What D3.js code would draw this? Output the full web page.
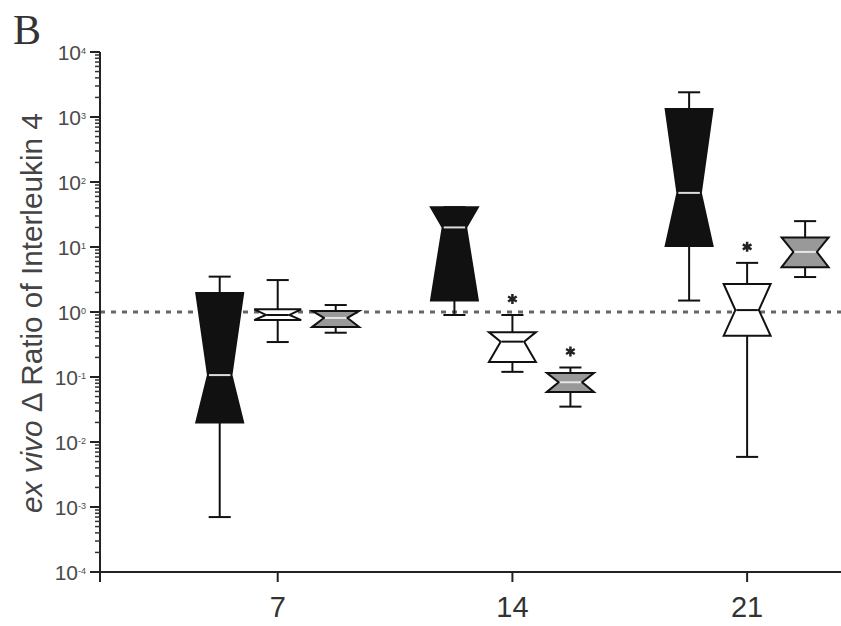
<!DOCTYPE html>
<html><head><meta charset="utf-8">
<script src="https://cdn.jsdelivr.net/npm/d3@7"></script>
<style>body{margin:0;background:#fff;} svg{display:block;}</style>
</head><body>
<script>
// ---- data ----
const days = [7, 14, 21];
const series = ["black", "white", "gray"];
const yExponents = [-4, -3, -2, -1, 0, 1, 2, 3, 4];
// per series, one entry per day: [whiskerLow, q1, median, q3, whiskerHigh]
const blackBoxes = [[0.0007, 0.02, 0.107, 1.96, 3.5], [0.9, 1.5, 20, 41, 41], [1.5, 10.4, 68, 1330, 2400]];
const whiteBoxes = [[0.345, 0.75, 0.9, 1.1, 3.1], [0.12, 0.17, 0.35, 0.49, 0.9], [0.0059, 0.43, 1.07, 2.7, 5.7]];
const grayBoxes  = [[0.48, 0.59, 0.81, 1.04, 1.28], [0.035, 0.059, 0.083, 0.115, 0.14], [3.45, 4.9, 8.4, 14, 25]];
const blackStars = [false, false, false];
const whiteStars = [false, true, true];
const grayStars  = [false, true, false];
const referenceLine = 1;
const yTitle = ["ex vivo", " \u0394 Ratio of Interleukin 4"];
const panelLabel = "B";

// ---- layout ----
const W = 841, H = 626;
const svg = d3.select("body").append("svg").attr("width", W).attr("height", H);
const x = d3.scaleLinear().domain([1.7, 23.8]).range([100, 841]);
const inner = d3.scaleBand().domain(series).range([-87, 87]).paddingInner(0.19).paddingOuter(0.095);
const y = d3.scaleLog().domain([1e-4, 1e4]).range([572, 52]);
const fills = {black: "#111", white: "#fff", gray: "#999"};
const medianColor = {black: "#ddd", white: "#111", gray: "#e6e6e6"};
const boxData = {black: blackBoxes, white: whiteBoxes, gray: grayBoxes};
const starData = {black: blackStars, white: whiteStars, gray: grayStars};

// reference dotted line
svg.append("line").attr("x1", x.range()[0]).attr("x2", x.range()[1])
  .attr("y1", y(referenceLine)).attr("y2", y(referenceLine))
  .attr("stroke", "#666").attr("stroke-width", 3).attr("stroke-dasharray", "5,6");

// boxes
const boxes = [];
series.forEach(s => days.forEach((d, i) => {
  const v = boxData[s][i];
  boxes.push({s, d, wlo: v[0], q1: v[1], med: v[2], q3: v[3], whi: v[4], star: starData[s][i]});
}));
const bw = inner.bandwidth();
const capW = bw * 0.47;
const notchRatio = 0.5;
const g = svg.append("g");
boxes.forEach(b => {
  const cx = x(b.d) + inner(b.s) + bw / 2;
  const L = cx - bw / 2, R = cx + bw / 2;
  const nl = cx - bw * notchRatio / 2, nr = cx + bw * notchRatio / 2;
  const gg = g.append("g");
  if (b.whi > b.q3) {
    gg.append("line").attr("x1", cx).attr("x2", cx).attr("y1", y(b.q3)).attr("y2", y(b.whi)).attr("stroke", "#111").attr("stroke-width", 2);
  }
  gg.append("line").attr("x1", cx - capW / 2).attr("x2", cx + capW / 2).attr("y1", y(b.whi)).attr("y2", y(b.whi)).attr("stroke", "#111").attr("stroke-width", 2);
  gg.append("line").attr("x1", cx).attr("x2", cx).attr("y1", y(b.q1)).attr("y2", y(b.wlo)).attr("stroke", "#111").attr("stroke-width", 2);
  gg.append("line").attr("x1", cx - capW / 2).attr("x2", cx + capW / 2).attr("y1", y(b.wlo)).attr("y2", y(b.wlo)).attr("stroke", "#111").attr("stroke-width", 2);
  const pts = [[L, y(b.q1)], [nl, y(b.med)], [L, y(b.q3)], [R, y(b.q3)], [nr, y(b.med)], [R, y(b.q1)]];
  gg.append("path").attr("d", d3.line()(pts) + "Z")
    .attr("fill", fills[b.s]).attr("stroke", "#111").attr("stroke-width", 2).attr("stroke-linejoin", "miter");
  gg.append("line").attr("x1", nl + 1).attr("x2", nr - 1).attr("y1", y(b.med)).attr("y2", y(b.med))
    .attr("stroke", medianColor[b.s]).attr("stroke-width", 2);
  if (b.star) {
    gg.append("path").attr("d", d3.symbol(d3.symbolAsterisk, 70)())
      .attr("transform", `translate(${cx},${y(b.whi) - 16})`)
      .attr("fill", "none").attr("stroke", "#222").attr("stroke-width", 2.5);
  }
});

// y axis
const ya = svg.append("g");
ya.append("line").attr("x1", 100).attr("x2", 100).attr("y1", y(1e4)).attr("y2", y(1e-4) + 10)
  .attr("stroke", "#222").attr("stroke-width", 2);
yExponents.forEach(e => {
  const v = Math.pow(10, e);
  ya.append("line").attr("x1", 90).attr("x2", 100).attr("y1", y(v)).attr("y2", y(v)).attr("stroke", "#222").attr("stroke-width", 2);
  if (e < 4) {
    for (let k = 2; k <= 9; k++) {
      ya.append("line").attr("x1", 95).attr("x2", 100).attr("y1", y(k * v)).attr("y2", y(k * v)).attr("stroke", "#333").attr("stroke-width", 1.5);
    }
  }
  const t = ya.append("text").attr("x", 86).attr("y", y(v)).attr("dy", "0.36em")
    .attr("text-anchor", "end").attr("font-family", "Liberation Sans, Arial, sans-serif")
    .attr("font-size", 21).attr("fill", "#4a4a4a");
  t.append("tspan").text("10");
  t.append("tspan").attr("dy", "-0.65em").attr("font-size", 9).text(e);
});

// x axis
const xa = svg.append("g");
xa.append("line").attr("x1", 100).attr("x2", W).attr("y1", 572).attr("y2", 572).attr("stroke", "#222").attr("stroke-width", 2);
days.forEach(d => {
  xa.append("line").attr("x1", x(d)).attr("x2", x(d)).attr("y1", 572).attr("y2", 582).attr("stroke", "#222").attr("stroke-width", 2);
  xa.append("text").attr("x", x(d)).attr("y", 617).attr("text-anchor", "middle")
    .attr("font-family", "Liberation Sans, Arial, sans-serif").attr("font-size", 29).attr("fill", "#333").text(d);
});

// y title: runs from y=513 up to y=113
const yt = svg.append("text").attr("transform", "translate(42,513) rotate(-90)").attr("text-anchor", "start")
  .attr("font-family", "Liberation Sans, Arial, sans-serif").attr("font-size", 24).attr("fill", "#444");
yt.append("tspan").attr("font-style", "italic").text(yTitle[0]);
yt.append("tspan").text(yTitle[1]);
const len = yt.node().getComputedTextLength();
yt.attr("font-size", 24 * 400 / len);

// panel label
svg.append("text").attr("x", 13).attr("y", 44).attr("font-family", "Liberation Serif, Times New Roman, serif")
  .attr("font-size", 42).attr("fill", "#333").text(panelLabel);
</script>
</body></html>
